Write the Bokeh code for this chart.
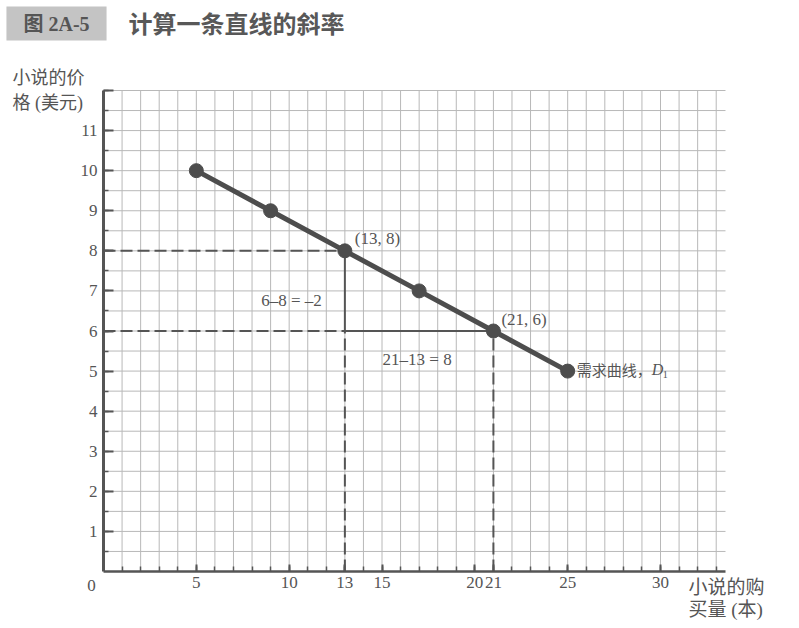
from bokeh.plotting import figure
from bokeh.models import FixedTicker, Label, Range1d
from bokeh.core.properties import value
from bokeh.embed import file_html
from bokeh.resources import INLINE

# ---- data ----
quantity = [5, 9, 13, 17, 21, 25]
price = [10, 9, 8, 7, 6, 5]
x_tick_values = [5, 10, 13, 15, 20, 21, 25, 30]
y_tick_values = [1, 2, 3, 4, 5, 6, 7, 8, 9, 10, 11, 12]
y_tick_labels = {12: ""}
x_grid_values = list(range(1, 34))
y_grid_values = [i * 0.5 for i in range(1, 25)]
x_max, y_max = 33.5, 12
point_a = (13, 8)
point_b = (21, 6)
rise_text = "6–8 = –2"
run_text = "21–13 = 8"
title_tag = "图 2A-5"
title_text = "计算一条直线的斜率"
y_title = ["小说的价", "格 (美元)"]
x_title = ["小说的购", "买量 (本)"]
curve_label = "需求曲线，"

SERIF = "Liberation Serif, Noto Sans CJK SC"
CJK = "Noto Sans CJK SC"
INK = "#555555"
GRID = "#b8b8b8"

# canvas layout: plot area spans canvas px 103..725 (x) and 90..571 (y)
W, H = 790, 620
L, R, T, B = 103, 725, 90, 571
kx = (R - L) / x_max
ky = (B - T) / y_max
p = figure(width=W, height=H, output_backend="svg", toolbar_location=None,
           title=None,
           x_range=Range1d(-L / kx, (W - L) / kx),
           y_range=Range1d(-(H - B) / ky, B / ky),
           min_border=0, min_border_left=0, min_border_right=0,
           min_border_top=0, min_border_bottom=0)
p.outline_line_color = None
p.background_fill_color = "white"
p.xgrid.visible = False
p.ygrid.visible = False

# grid lines limited to the plot area
p.segment(x0=x_grid_values, y0=[0] * len(x_grid_values),
          x1=x_grid_values, y1=[y_max] * len(x_grid_values),
          line_color=GRID, line_width=1)
p.segment(x0=[0] * len(y_grid_values), y0=y_grid_values,
          x1=[x_max] * len(y_grid_values), y1=y_grid_values,
          line_color=GRID, line_width=1)

# axes, placed at the origin inside the full-canvas frame
p.xaxis.fixed_location = 0
p.yaxis.fixed_location = 0
p.xaxis.bounds = (0, x_max)
p.yaxis.bounds = (0, y_max)
p.xaxis.ticker = FixedTicker(ticks=x_tick_values, minor_ticks=x_grid_values)
p.yaxis.ticker = FixedTicker(ticks=y_tick_values, minor_ticks=y_grid_values)
p.yaxis.major_label_overrides = y_tick_labels
for ax in (p.xaxis, p.yaxis):
    ax.axis_line_color = INK
    ax.major_tick_line_color = INK
    ax.minor_tick_line_color = INK
    ax.major_tick_out = 0
    ax.minor_tick_out = 0
    ax.major_label_text_font = SERIF
    ax.major_label_text_font_size = "17px"
    ax.major_label_text_color = INK
    ax.major_tick_line_width = 2
    ax.minor_tick_line_width = 1.5
p.yaxis.axis_line_width = 3
p.xaxis.axis_line_width = 2.5
p.yaxis.major_tick_in = 10
p.yaxis.minor_tick_in = 5
p.xaxis.major_tick_in = 7
p.xaxis.minor_tick_in = 5
p.yaxis.major_label_standoff = 6
p.xaxis.major_label_standoff = 5

# guide lines
dash = "12 5"
p.line([0, point_a[0]], [point_a[1], point_a[1]], line_color=INK, line_width=2, line_dash=dash)
p.line([0, point_a[0]], [point_b[1], point_b[1]], line_color=INK, line_width=2, line_dash=dash)
p.line([point_a[0], point_a[0]], [0, point_b[1]], line_color=INK, line_width=2, line_dash=dash)
p.line([point_b[0], point_b[0]], [0, point_b[1]], line_color=INK, line_width=2, line_dash=dash)
p.line([point_a[0], point_a[0]], [point_a[1], point_b[1]], line_color=INK, line_width=2)
p.line([point_a[0], point_b[0]], [point_b[1], point_b[1]], line_color=INK, line_width=2)

# demand curve
p.line(quantity, price, line_color="#4d4d4d", line_width=5)
p.scatter(quantity, price, size=14, fill_color="#4d4d4d", line_color="#4d4d4d")

# in-plot texts
p.text([point_a[0]], [point_a[1]], text=[f"({point_a[0]}, {point_a[1]})"],
       x_offset=10, y_offset=-3, text_font=value(SERIF), text_font_size="17px",
       text_color=INK, text_baseline="bottom")
p.text([point_b[0]], [point_b[1]], text=[f"({point_b[0]}, {point_b[1]})"],
       x_offset=8, y_offset=-2, text_font=value(SERIF), text_font_size="17px",
       text_color=INK, text_baseline="bottom")
p.text([point_a[0]], [(point_a[1] + point_b[1]) / 2], text=[rise_text],
       x_offset=-23, y_offset=10, text_font=value(SERIF), text_font_size="17px",
       text_color=INK, text_align="right", text_baseline="middle")
p.text([(point_a[0] + point_b[0]) / 2], [point_b[1]], text=[run_text],
       x_offset=-2, y_offset=28, text_font=value(SERIF), text_font_size="17px",
       text_color=INK, text_align="center", text_baseline="middle")
p.text([quantity[-1]], [price[-1]], text=[curve_label],
       x_offset=9, y_offset=-2, text_font=value(CJK), text_font_size="15px",
       text_color=INK, text_baseline="middle")
p.text([quantity[-1]], [price[-1]], text=["D"],
       x_offset=84, y_offset=-2, text_font=value("Liberation Serif"), text_font_style="italic",
       text_font_size="16px", text_color=INK, text_baseline="middle")
p.text([quantity[-1]], [price[-1]], text=["1"],
       x_offset=95, y_offset=3, text_font=value("Liberation Serif"),
       text_font_size="10px", text_color=INK, text_baseline="middle")

# texts around the plot area (canvas units, y from the top)
def lab(x, y, text, size, font=SERIF, bold=False, align="left", color=INK, **kw):
    p.add_layout(Label(x=x, y=y, x_units="canvas", y_units="canvas", text=text,
                       text_font=font, text_font_size=size, text_color=color,
                       text_font_style="bold" if bold else "normal",
                       text_align=align, text_baseline="middle", **kw))

# padding order here: (left, right, top, bottom)
lab(56, 23, title_tag, "20px", bold=True, align="center",
    background_fill_color="#c4c4c4", padding=(17, 17, 6, 6), color="#555555")
lab(128, 22, title_text, "24px", font=CJK, bold=True, color="#585858")
lab(12, 77, y_title[0], "18px")
lab(12, 102, y_title[1], "18px")
lab(688, 587, x_title[0], "19px")
lab(688, 609, x_title[1], "19px")
lab(91, 585, "0", "17px", align="center")

open("out.html", "w").write(file_html(p, INLINE))
